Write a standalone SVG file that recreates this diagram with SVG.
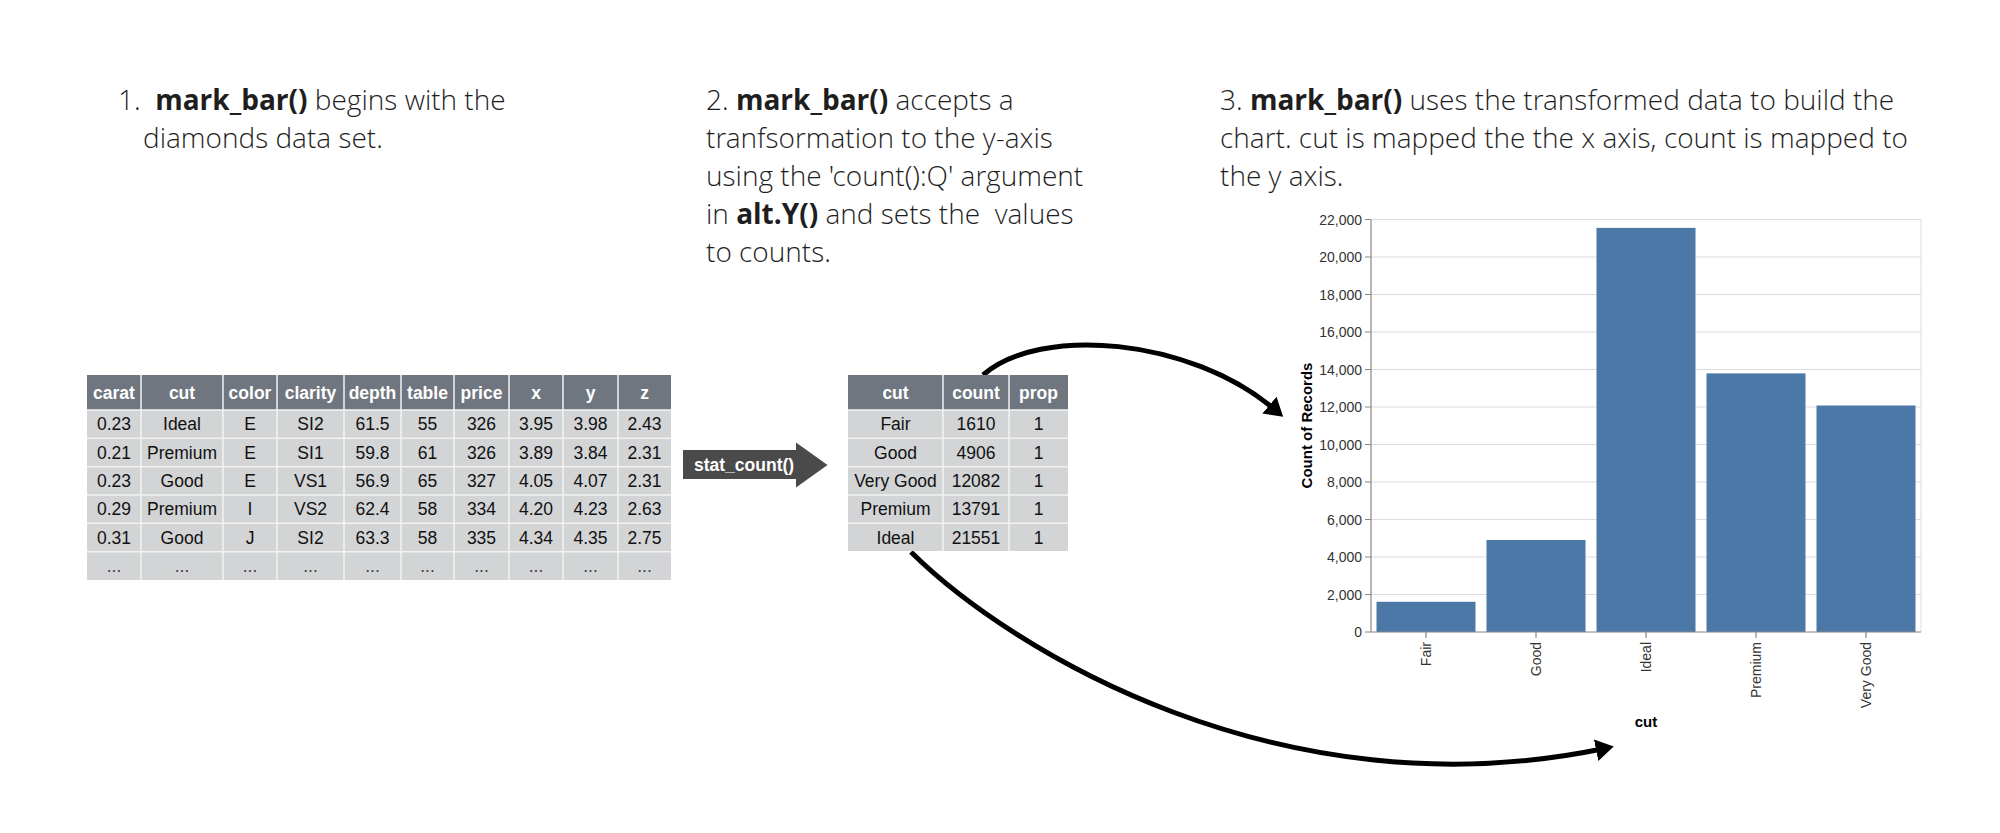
<svg xmlns="http://www.w3.org/2000/svg" width="2000" height="833" viewBox="0 0 2000 833">
<defs>
<style>
.para{font-family:"Open Sans Light","Open Sans","Liberation Sans",sans-serif;font-size:28px;font-weight:300;fill:#1e1e1e}
.b{font-family:"Open Sans","Liberation Sans",sans-serif;font-weight:700}
.hdr{font-family:"Liberation Sans",Arial,sans-serif;font-size:17.5px;font-weight:700;fill:#fff;text-anchor:middle}
.cell{font-family:"Liberation Sans",Arial,sans-serif;font-size:17.5px;fill:#111;text-anchor:middle}
.dots{font-family:"Liberation Sans",Arial,sans-serif;font-size:17.5px;fill:#444;text-anchor:middle}
.hbg{fill:#6f7680}
.bbg{fill:#d3d4d6}
.sep{stroke:#f2f2f2;stroke-width:1.5;fill:none}
.grid{stroke:#dddddd;stroke-width:1;fill:none}
.axis{stroke:#888;stroke-width:1.2;fill:none}
.bar{fill:#4c78a8}
.ylab{font-family:"Liberation Sans",Arial,sans-serif;font-size:14px;fill:#333;text-anchor:end}
.xlab{font-family:"Liberation Sans",Arial,sans-serif;font-size:14px;fill:#333;text-anchor:end}
.title{font-family:"Liberation Sans",Arial,sans-serif;font-size:15px;font-weight:700;fill:#000;text-anchor:middle}
.conn{stroke:#000;stroke-width:5;fill:none;marker-end:url(#ah)}
</style>
<marker id="ah" viewBox="0 0 18 22" refX="6" refY="11" markerWidth="18" markerHeight="22" markerUnits="userSpaceOnUse" orient="auto">
<path d="M0,0 L18,11 L0,22 z" fill="#000"/>
</marker>
</defs>
<rect width="2000" height="833" fill="#fff"/>

<g id="step1">
<text class="para" x="118" y="110">1.&#160; <tspan class="b">mark_bar()</tspan> begins with the</text>
<text class="para" x="143" y="148">diamonds data set.</text>
</g>

<g id="step2">
<text class="para" x="706" y="110">2. <tspan class="b">mark_bar()</tspan> accepts a</text>
<text class="para" x="706" y="148">tranfsormation to the y-axis</text>
<text class="para" x="706" y="186">using the 'count():Q' argument</text>
<text class="para" x="706" y="224">in <tspan class="b">alt.Y()</tspan> and sets the&#160; values</text>
<text class="para" x="706" y="262">to counts.</text>
</g>

<g id="step3">
<text class="para" x="1220" y="110">3. <tspan class="b">mark_bar()</tspan> uses the transformed data to build the</text>
<text class="para" x="1220" y="148">chart. cut is mapped the the x axis, count is mapped to</text>
<text class="para" x="1220" y="186">the y axis.</text>
</g>

<g id="connectors">
<path class="conn" d="M983,375 C1040,325 1190,338 1274,409"/>
<path class="conn" d="M911,552 C1010,650 1280,815 1602,749"/>
</g>

<g id="diamonds-table">
<rect class="hbg" x="87" y="375" width="584" height="35"/>
<rect class="bbg" x="87" y="410" width="584" height="170"/>
<path class="sep" d="M141,375V580 M223,375V580 M277,375V580 M344,375V580 M401,375V580 M454,375V580 M509,375V580 M563,375V580 M618,375V580 M87,410H671 M87,438.3H671 M87,466.7H671 M87,495H671 M87,523.3H671 M87,551.7H671"/>
<g class="hdr">
<text x="114" y="399">carat</text><text x="182" y="399">cut</text><text x="250" y="399">color</text><text x="310.5" y="399">clarity</text><text x="372.5" y="399">depth</text><text x="427.5" y="399">table</text><text x="481.5" y="399">price</text><text x="536" y="399">x</text><text x="590.5" y="399">y</text><text x="644.5" y="399">z</text>
</g>
<g class="cell">
<text x="114" y="430">0.23</text><text x="182" y="430">Ideal</text><text x="250" y="430">E</text><text x="310.5" y="430">SI2</text><text x="372.5" y="430">61.5</text><text x="427.5" y="430">55</text><text x="481.5" y="430">326</text><text x="536" y="430">3.95</text><text x="590.5" y="430">3.98</text><text x="644.5" y="430">2.43</text>
<text x="114" y="458.5">0.21</text><text x="182" y="458.5">Premium</text><text x="250" y="458.5">E</text><text x="310.5" y="458.5">SI1</text><text x="372.5" y="458.5">59.8</text><text x="427.5" y="458.5">61</text><text x="481.5" y="458.5">326</text><text x="536" y="458.5">3.89</text><text x="590.5" y="458.5">3.84</text><text x="644.5" y="458.5">2.31</text>
<text x="114" y="487">0.23</text><text x="182" y="487">Good</text><text x="250" y="487">E</text><text x="310.5" y="487">VS1</text><text x="372.5" y="487">56.9</text><text x="427.5" y="487">65</text><text x="481.5" y="487">327</text><text x="536" y="487">4.05</text><text x="590.5" y="487">4.07</text><text x="644.5" y="487">2.31</text>
<text x="114" y="515">0.29</text><text x="182" y="515">Premium</text><text x="250" y="515">I</text><text x="310.5" y="515">VS2</text><text x="372.5" y="515">62.4</text><text x="427.5" y="515">58</text><text x="481.5" y="515">334</text><text x="536" y="515">4.20</text><text x="590.5" y="515">4.23</text><text x="644.5" y="515">2.63</text>
<text x="114" y="543.5">0.31</text><text x="182" y="543.5">Good</text><text x="250" y="543.5">J</text><text x="310.5" y="543.5">SI2</text><text x="372.5" y="543.5">63.3</text><text x="427.5" y="543.5">58</text><text x="481.5" y="543.5">335</text><text x="536" y="543.5">4.34</text><text x="590.5" y="543.5">4.35</text><text x="644.5" y="543.5">2.75</text>
</g>
<g class="dots">
<text x="114" y="572">...</text><text x="182" y="572">...</text><text x="250" y="572">...</text><text x="310.5" y="572">...</text><text x="372.5" y="572">...</text><text x="427.5" y="572">...</text><text x="481.5" y="572">...</text><text x="536" y="572">...</text><text x="590.5" y="572">...</text><text x="644.5" y="572">...</text>
</g>
</g>

<g id="stat-count">
<path d="M683,450 H796 V442.5 L827.5,465 L796,487.5 V479 H683 z" fill="#4a4a4a"/>
<text x="694" y="471" style="font-family:'Liberation Sans',Arial,sans-serif;font-size:17.5px;font-weight:700;fill:#fff">stat_count()</text>
</g>

<g id="counts-table">
<rect class="hbg" x="848" y="375" width="220" height="35"/>
<rect class="bbg" x="848" y="410" width="220" height="141"/>
<path class="sep" d="M943,375V551 M1009,375V551 M848,410H1068 M848,438.3H1068 M848,466.7H1068 M848,495H1068 M848,523.3H1068"/>
<g class="hdr">
<text x="895.5" y="399">cut</text><text x="976" y="399">count</text><text x="1038.5" y="399">prop</text>
</g>
<g class="cell">
<text x="895.5" y="430">Fair</text><text x="976" y="430">1610</text><text x="1038.5" y="430">1</text>
<text x="895.5" y="458.5">Good</text><text x="976" y="458.5">4906</text><text x="1038.5" y="458.5">1</text>
<text x="895.5" y="487">Very Good</text><text x="976" y="487">12082</text><text x="1038.5" y="487">1</text>
<text x="895.5" y="515">Premium</text><text x="976" y="515">13791</text><text x="1038.5" y="515">1</text>
<text x="895.5" y="543.5">Ideal</text><text x="976" y="543.5">21551</text><text x="1038.5" y="543.5">1</text>
</g>
</g>

<g id="bar-chart">
<path class="grid" d="M1371,594.5H1921 M1371,557H1921 M1371,519.5H1921 M1371,482H1921 M1371,444.5H1921 M1371,407H1921 M1371,369.5H1921 M1371,332H1921 M1371,294.5H1921 M1371,257H1921 M1371,219.5H1921 M1921,219.5V632"/>
<rect class="bar" x="1376.5" y="601.8" width="99" height="30.2"/>
<rect class="bar" x="1486.5" y="540" width="99" height="92"/>
<rect class="bar" x="1596.5" y="227.9" width="99" height="404.1"/>
<rect class="bar" x="1706.5" y="373.4" width="99" height="258.6"/>
<rect class="bar" x="1816.5" y="405.5" width="99" height="226.5"/>
<path class="axis" d="M1371,219.5V632 H1921 M1365,632H1371 M1365,594.5H1371 M1365,557H1371 M1365,519.5H1371 M1365,482H1371 M1365,444.5H1371 M1365,407H1371 M1365,369.5H1371 M1365,332H1371 M1365,294.5H1371 M1365,257H1371 M1365,219.5H1371 M1426,632V638 M1536,632V638 M1646,632V638 M1756,632V638 M1866,632V638"/>
<g class="ylab">
<text x="1362" y="637">0</text><text x="1362" y="599.5">2,000</text><text x="1362" y="562">4,000</text><text x="1362" y="524.5">6,000</text><text x="1362" y="487">8,000</text><text x="1362" y="449.5">10,000</text><text x="1362" y="412">12,000</text><text x="1362" y="374.5">14,000</text><text x="1362" y="337">16,000</text><text x="1362" y="299.5">18,000</text><text x="1362" y="262">20,000</text><text x="1362" y="224.5">22,000</text>
</g>
<g class="xlab">
<text transform="translate(1431,642) rotate(-90)">Fair</text>
<text transform="translate(1541,642) rotate(-90)">Good</text>
<text transform="translate(1651,642) rotate(-90)">Ideal</text>
<text transform="translate(1761,642) rotate(-90)">Premium</text>
<text transform="translate(1871,642) rotate(-90)">Very Good</text>
</g>
<text class="title" transform="translate(1312,425.5) rotate(-90)">Count of Records</text>
<text class="title" x="1646" y="727">cut</text>
</g>
</svg>
